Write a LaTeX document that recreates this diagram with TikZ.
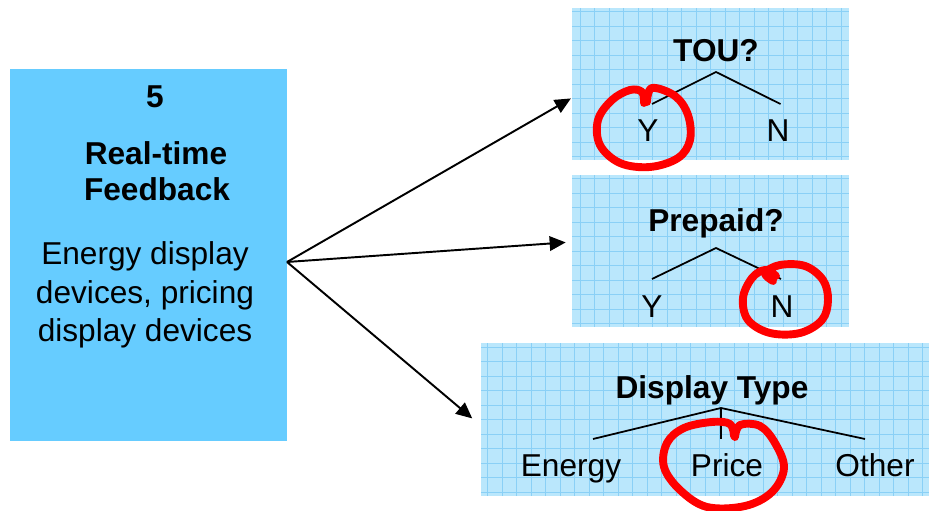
\documentclass[tikz,border=0pt]{standalone}
\usepackage{fontspec}
\setmainfont{Liberation Sans}
\usetikzlibrary{calc,positioning,arrows.meta}
\definecolor{boxblue}{RGB}{102,204,255}
\definecolor{panelblue}{RGB}{186,231,252}
\definecolor{gridblue}{RGB}{138,208,246}
\tikzstyle{txt}=[inner sep=0mm, anchor=base, font=\fontsize{18}{22}\selectfont, align=center]
\tikzstyle{btxt}=[txt, font=\fontsize{18}{22}\selectfont\bfseries]
\tikzstyle{panel}=[shape=rectangle, fill=panelblue, inner sep=0mm,
  path picture={\draw[gridblue, line width=0.4pt]
    (path picture bounding box.south west) grid[step=0.29]
    (path picture bounding box.north east);}]
\tikzstyle{arr}=[line width=1.1pt, -{Triangle[length=3.2mm,width=2.9mm]}]
\tikzstyle{branch}=[line width=1pt]
\tikzstyle{scribble}=[red, line width=4.5pt, line cap=round, line join=round]

\begin{document}
\begin{tikzpicture}
\useasboundingbox (0,0) rectangle (18.58,10.22);
\node (rtf) [fill=boxblue, minimum width=5.54cm, minimum height=7.44cm] at (2.97,5.12) {};
\node (num) [btxt] at (3.10,8.06) {5};
\node (rtfhead1) [btxt] at (3.12,6.92) {Real-time};
\node (rtfhead2) [btxt] at (3.14,6.20) {Feedback};
\node (rtfbody1) [txt] at (2.90,4.92) {Energy display};
\node (rtfbody2) [txt] at (2.90,4.15) {devices, pricing};
\node (rtfbody3) [txt] at (2.90,3.39) {display devices};
\coordinate (fb) at (5.74,4.98);

\node (tou) [panel, minimum width=5.54cm, minimum height=3.04cm] at (14.21,8.54) {};
\node (prep) [panel, minimum width=5.54cm, minimum height=3.04cm] at (14.21,5.20) {};
\node (disp) [panel, minimum width=8.96cm, minimum height=3.06cm] at (14.10,1.83) {};

% TOU tree
\node (toutitle) [btxt] at (14.32,8.98) {TOU?};
\node (touy) [txt] at (12.96,7.38) {Y};
\node (toun) [txt] at (15.56,7.38) {N};
\coordinate (touroot) at (14.32,8.78);
\coordinate (touyend) at (13.04,8.14);
\coordinate (tounend) at (15.61,8.14);
\draw[branch] (touyend) -- (touroot) -- (tounend);

% Prepaid tree
\node (preptitle) [btxt] at (14.32,5.58) {Prepaid?};
\node (prepy) [txt] at (13.04,3.86) {Y};
\node (prepn) [txt] at (15.64,3.86) {N};
\coordinate (preproot) at (14.32,5.26);
\coordinate (prepyend) at (13.04,4.64);
\coordinate (prepnend) at (15.62,4.64);
\draw[branch] (prepyend) -- (preproot) -- (prepnend);

% Display type tree
\node (disptitle) [btxt] at (14.24,2.24) {Display Type};
\node (dispe) [txt] at (11.42,0.68) {Energy};
\node (dispp) [txt] at (14.54,0.68) {Price};
\node (dispo) [txt] at (17.50,0.68) {Other};
\coordinate (disproot) at (14.42,2.06);
\coordinate (dispeend) at (11.86,1.44);
\coordinate (disppend) at (14.42,1.44);
\coordinate (dispoend) at (17.30,1.44);
\draw[branch] (dispeend) -- (disproot) -- (dispoend);
\draw[branch] (disproot) -- (disppend);

% arrows
\draw[arr, shorten >=0.5pt] (fb) -- ([yshift=-0.28cm]tou.west);
\draw[arr, shorten >=0.12cm] (fb) -- ([yshift=0.18cm]prep.west);
\draw[arr, shorten >=0.22cm] (fb) -- ([yshift=-0.12cm]disp.west);

% red rings
\draw[scribble] plot[smooth, tension=0.6] coordinates {(12.94,8.18) (13.04,8.46) (13.50,8.30) (13.76,7.92) (13.80,7.42) (13.56,7.06) (13.00,6.88) (12.40,6.96) (12.00,7.32) (11.96,7.82) (12.24,8.22) (12.60,8.42) (12.84,8.38) (12.88,8.16)};
\draw[scribble] plot[smooth, tension=0.6] coordinates {(15.46,4.60) (15.30,4.76) (15.60,4.92) (16.10,4.90) (16.46,4.62) (16.56,4.22) (16.44,3.82) (16.00,3.56) (15.40,3.56) (14.96,3.82) (14.86,4.26) (15.04,4.66) (15.30,4.82) (15.52,4.70)};
\draw[scribble] plot[smooth, tension=0.6] coordinates {(14.70,1.48) (14.80,1.72) (15.20,1.70) (15.50,1.36) (15.68,0.86) (15.44,0.38) (14.90,0.10) (14.14,0.08) (13.60,0.42) (13.28,0.88) (13.34,1.36) (13.68,1.66) (14.24,1.78) (14.60,1.74) (14.68,1.50)};
\end{tikzpicture}
\end{document}
